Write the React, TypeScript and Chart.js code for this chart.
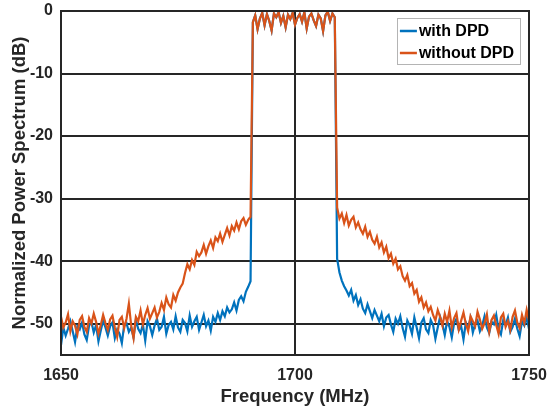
import React, { useEffect, useRef } from "react";
import { Chart, registerables } from "chart.js";

Chart.register(...registerables);

// ---- data ----
const FREQ_START = 1650; // MHz, first sample
const FREQ_STEP = 0.5; // MHz between samples
const X_TICKS = [1650, 1700, 1750];
const Y_TICKS = [-50, -40, -30, -20, -10, 0];
const SERIES_LABELS = ["with DPD", "without DPD"];

// 1650.0 .. 1690.5 MHz
const withDpdLeft = [
  -53.4, -50.6, -51.9, -50.8, -49.6, -51.2, -52.9, -50.4, -50.9, -49.8,
  -51.7, -52.6, -50.3, -49.7, -51.4, -50.2, -52.8, -51.1, -49.5, -50.6,
  -51.9, -50.4, -49.8, -52.3, -50.9, -51.6, -53.1, -50.2, -49.9, -51.3,
  -50.6, -52.2, -49.4, -50.8, -51.5, -50.1, -52.7, -49.6, -50.4, -51.8,
  -50.3, -49.2, -51.0, -50.5, -48.9, -51.6, -50.2, -49.7, -50.9, -48.8,
  -50.6, -51.3, -49.4, -49.9, -51.2, -48.7, -50.5, -49.6, -48.9, -51.0,
  -49.8, -48.6, -50.4, -49.5, -51.1, -48.9, -49.7, -48.3, -49.4, -48.0,
  -48.8, -47.4, -48.2, -47.7, -46.6, -47.9, -46.2, -45.6, -46.4, -44.9,
  -44.1, -43.2,
];
const withoutDpdLeft = [
  -48.9, -50.6, -49.8, -48.5, -51.2, -49.6, -50.3, -51.7, -49.4, -48.8,
  -50.5, -51.3, -49.1, -50.0, -48.4, -49.7, -51.6, -50.2, -48.6, -49.9,
  -51.0, -49.3, -48.7, -50.6, -52.1, -49.4, -48.9, -50.7, -49.2, -46.8,
  -50.3, -52.3, -48.9, -49.6, -47.9, -50.1, -48.6, -47.5, -49.2, -48.3,
  -47.4, -49.0, -48.1, -46.7, -47.8, -45.8, -46.9, -47.4, -45.4, -46.3,
  -45.0, -44.2, -43.6, -41.9, -40.5, -41.3, -39.8, -40.6, -38.5, -39.2,
  -38.6, -37.4, -38.8, -37.6, -36.7, -37.9, -36.2, -36.8, -35.6, -36.9,
  -35.8, -34.7, -35.9, -34.4, -35.1, -33.8, -34.9, -33.6, -33.1, -34.2,
  -33.4, -32.9,
];
// 1691.0 .. 1708.5 MHz (shared in-band)
const inBand = [
  -1.8, -0.7, -2.9, -1.2, -0.3, -2.3, -0.5, -1.6, -3.1, -0.4,
  -1.0, -0.2, -1.9, -0.8, -2.6, -0.6, -1.3, -0.3, -2.2, -1.1,
  -0.5, -1.7, -0.2, -2.8, -0.9, -0.4, -1.5, -2.4, -0.6, -1.2,
  -3.2, -0.7, -0.1, -1.6, -0.4, -1.0,
];
// 1709.0 .. 1750.0 MHz
const withDpdRight = [
  -39.6, -41.8, -43.1, -44.0, -44.7, -45.5, -44.6, -46.3, -45.4, -47.0,
  -46.1, -47.6, -48.3, -46.9, -48.0, -49.1, -47.8, -48.7, -49.6, -48.4,
  -50.4, -49.0, -48.6, -50.1, -51.3, -49.2, -50.0, -48.8, -50.7, -52.1,
  -49.5, -50.3, -51.6, -49.0, -50.6, -52.3, -49.8, -49.1, -50.9, -51.5,
  -49.4, -50.2, -52.4, -50.6, -48.9, -50.1, -51.8, -49.6, -50.5, -52.2,
  -49.9, -49.2, -51.0, -50.4, -52.5, -49.8, -50.7, -49.1, -51.4, -50.0,
  -49.5, -51.2, -50.3, -48.8, -50.6, -51.5, -49.7, -50.1, -48.6, -50.9,
  -51.7, -49.4, -50.2, -49.0, -51.3, -50.5, -49.2, -50.8, -52.0, -49.6,
  -50.3, -49.0, -50.8,
];
const withoutDpdRight = [
  -31.4, -33.2, -32.4, -33.9, -32.6, -34.3, -33.4, -32.9, -34.6, -33.8,
  -34.9, -35.6, -34.5, -36.1, -35.3, -36.6, -37.2, -36.1, -37.8, -37.0,
  -38.6, -37.7, -39.5, -38.8, -40.4, -39.6, -41.3, -40.8, -42.4, -43.1,
  -42.2, -44.0, -43.5, -45.2, -44.6, -46.5, -45.8, -47.4, -46.6, -48.0,
  -47.3, -48.6, -49.5, -47.8, -48.9, -50.3, -48.4, -49.7, -47.9, -50.6,
  -49.1, -48.3, -50.9, -49.5, -48.2, -50.0, -51.2, -48.8, -49.6, -50.4,
  -48.1, -49.3, -50.8, -49.9, -48.5, -51.3, -49.4, -48.7, -50.2, -51.6,
  -49.0, -48.4, -50.5, -49.6, -51.0, -48.9, -47.9, -49.8, -50.7, -48.6,
  -49.9, -47.8, -49.5,
];

const withDpd = [...withDpdLeft, ...inBand, ...withDpdRight];
const withoutDpd = [...withoutDpdLeft, ...inBand, ...withoutDpdRight];

const toPoints = (vals: number[]) =>
  vals.map((y, i) => ({ x: FREQ_START + FREQ_STEP * i, y }));

// ---- styles ----
const FONT = '"Liberation Sans", Arial, Helvetica, sans-serif';
const INK = "#262626";
const COLORS = ["#0072BD", "#D95319"];

const boxPlugin = {
  id: "boxFrame",
  afterDatasetsDraw(chart: any) {
    const { ctx, chartArea: a } = chart;
    ctx.save();
    ctx.strokeStyle = INK;
    ctx.lineWidth = 2;
    ctx.strokeRect(Math.round(a.left), Math.round(a.top), Math.round(a.right - a.left), Math.round(a.bottom - a.top));
    ctx.restore();
  },
};

const legendPlugin = {
  id: "boxLegend",
  afterDraw(chart: any) {
    const { ctx, chartArea: a } = chart;
    ctx.save();
    ctx.font = `bold 16px ${FONT}`;
    const maxW = Math.max(...chart.data.datasets.map((d: any) => ctx.measureText(d.label).width));
    const lineLen = 17;
    const right = a.right - 9;
    const top = a.top + 7;
    const rowH = 22;
    const width = 3 + lineLen + 2 + maxW + 6;
    const left = right - width;
    const height = 46;
    ctx.fillStyle = "#ffffff";
    ctx.fillRect(left, top, width, height);
    ctx.strokeStyle = "#b4b4b4";
    ctx.lineWidth = 1;
    ctx.strokeRect(Math.round(left) + 0.5, Math.round(top) + 0.5, Math.round(width), Math.round(height));
    chart.data.datasets.forEach((d: any, i: number) => {
      const y = top + 13 + i * rowH;
      ctx.strokeStyle = d.borderColor;
      ctx.lineWidth = 2.5;
      ctx.beginPath();
      ctx.moveTo(left + 3, y);
      ctx.lineTo(left + 3 + lineLen, y);
      ctx.stroke();
      ctx.fillStyle = "#000000";
      ctx.textBaseline = "middle";
      ctx.textAlign = "left";
      ctx.fillText(d.label, left + 3 + lineLen + 2, y + 1);
    });
    ctx.restore();
  },
};

export default function App() {
  const ref = useRef<HTMLCanvasElement | null>(null);

  useEffect(() => {
    if (!ref.current) return;
    const chart = new Chart(ref.current, {
      type: "line",
      data: {
        datasets: [
          {
            label: SERIES_LABELS[0],
            data: toPoints(withDpd),
            borderColor: COLORS[0],
            backgroundColor: COLORS[0],
            borderWidth: 2.2,
            pointRadius: 0,
            tension: 0,
            order: 1,
          },
          {
            label: SERIES_LABELS[1],
            data: toPoints(withoutDpd),
            borderColor: COLORS[1],
            backgroundColor: COLORS[1],
            borderWidth: 2.2,
            pointRadius: 0,
            tension: 0,
            order: 0,
          },
        ],
      },
      options: {
        animation: false,
        responsive: false,
        maintainAspectRatio: false,
        devicePixelRatio: 1,
        layout: { padding: { left: 0, top: 11, right: 19, bottom: 0 } },
        plugins: {
          legend: { display: false },
          tooltip: { enabled: false },
        },
        scales: {
          x: {
            type: "linear",
            min: 1650,
            max: 1750,
            afterBuildTicks: (s: any) => {
              s.ticks = X_TICKS.map((v) => ({ value: v }));
            },
            afterFit: (s: any) => {
              s.height = 56;
              s.paddingLeft = 0;
              s.paddingRight = 0;
            },
            ticks: {
              color: INK,
              font: { family: FONT, size: 16, weight: "bold" },
              padding: 11,
              maxRotation: 0,
              autoSkip: false,
              callback: (v: any) => String(v),
            },
            grid: { color: INK, lineWidth: 2, drawTicks: false },
            border: { display: false },
            title: {
              display: true,
              text: "Frequency (MHz)",
              color: INK,
              font: { family: FONT, size: 18.5, weight: "bold" },
              padding: { top: 0, bottom: 3.4 },
            },
          },
          y: {
            type: "linear",
            min: -55,
            max: 0,
            afterBuildTicks: (s: any) => {
              s.ticks = Y_TICKS.map((v) => ({ value: v }));
            },
            afterFit: (s: any) => {
              s.width = 61;
              s.paddingTop = 0;
              s.paddingBottom = 0;
            },
            ticks: {
              color: INK,
              font: { family: FONT, size: 16, weight: "bold" },
              padding: 8,
              autoSkip: false,
              callback: (v: any) => String(v),
            },
            grid: { color: INK, lineWidth: 2, drawTicks: false },
            border: { display: false },
            title: {
              display: true,
              text: "Normalized Power Spectrum (dB)",
              color: INK,
              font: { family: FONT, size: 18.5, weight: "bold" },
              padding: { top: 8.5, bottom: 0 },
            },
          },
        },
      },
      plugins: [boxPlugin, legendPlugin],
    } as any);
    return () => chart.destroy();
  }, []);

  return (
    <div style={{ position: "fixed", left: 0, top: 0, width: 548, height: 411, background: "#fff" }}>
      <canvas ref={ref} width={548} height={411} style={{ width: 548, height: 411, display: "block" }} />
    </div>
  );
}
